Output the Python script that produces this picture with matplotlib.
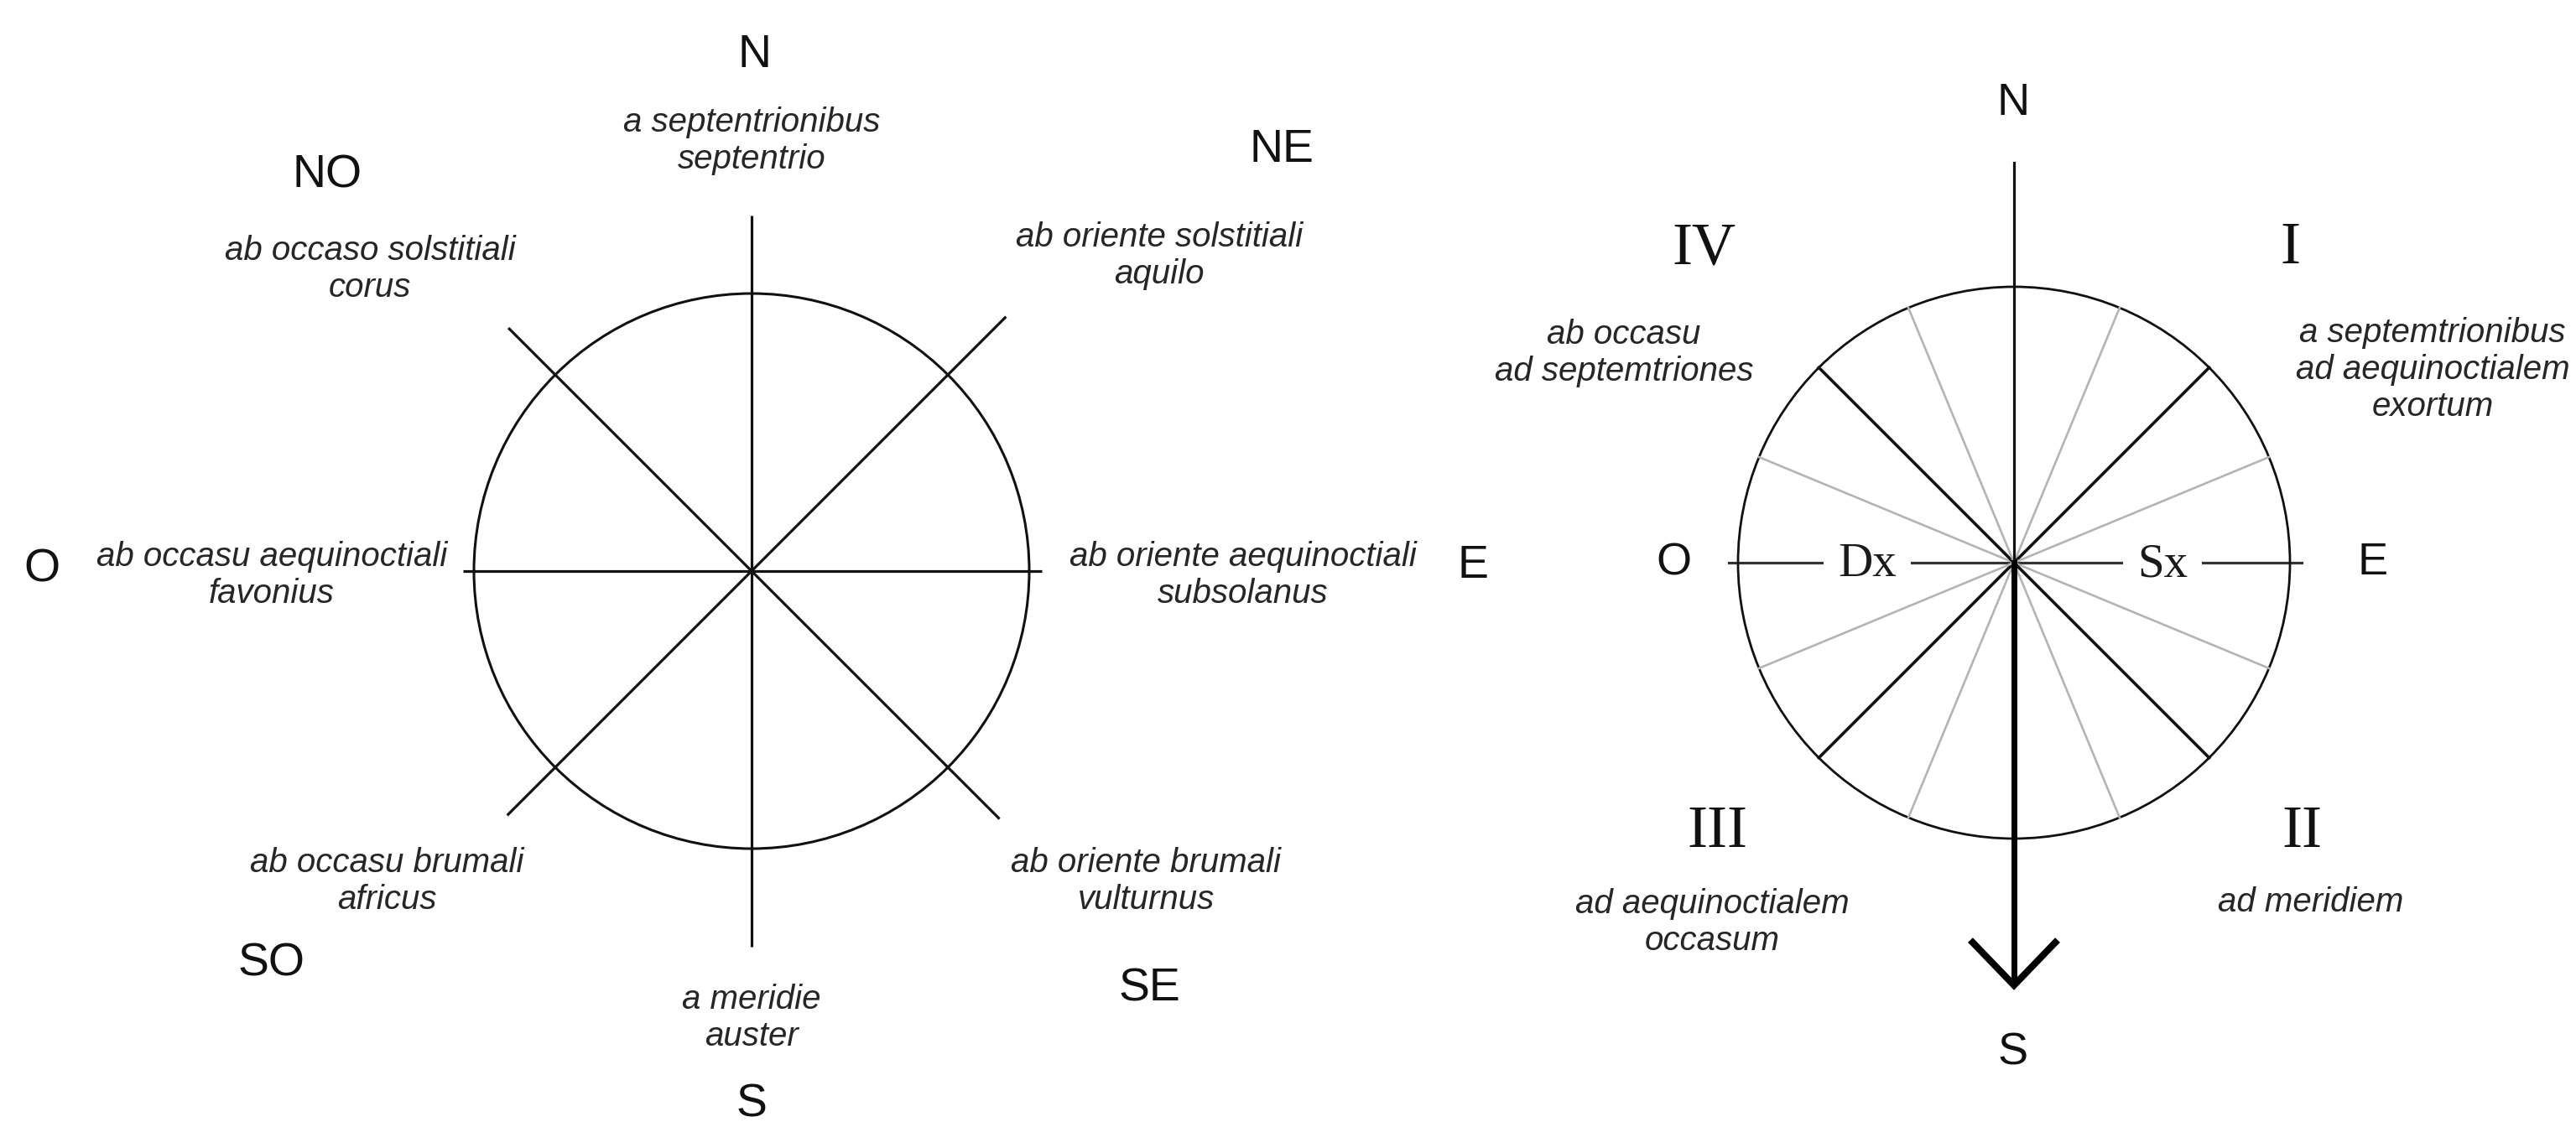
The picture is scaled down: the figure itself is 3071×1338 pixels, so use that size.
import numpy as np
import matplotlib.pyplot as plt
from matplotlib.patches import Circle

W, H = 3071, 1338
DPI = 100

# ---- left rose: the eight winds (Vitruvius)
LEFT_POINTS = ["N", "NE", "E", "SE", "S", "SO", "O", "NO"]
LEFT_BEARINGS = [0, 45, 90, 135, 180, 225, 270, 315]
LEFT_WINDS = [
    "a septentrionibus\nseptentrio",
    "ab oriente solstitiali\naquilo",
    "ab oriente aequinoctiali\nsubsolanus",
    "ab oriente brumali\nvulturnus",
    "a meridie\nauster",
    "ab occasu brumali\nafricus",
    "ab occasu aequinoctiali\nfavonius",
    "ab occaso solstitiali\ncorus",
]

# ---- right rose: the four quarters
RIGHT_POINTS = ["N", "E", "S", "O"]
RIGHT_SIDES = ["Dx", "Sx"]
QUARTERS = ["I", "II", "III", "IV"]
QUARTER_TEXT = [
    "a septemtrionibus\nad aequinoctialem\nexortum",
    "ad meridiem",
    "ad aequinoctialem\noccasum",
    "ab occasu\nad septemtriones",
]
SUBDIVISIONS = 16

# ---- layout (pixels, y pointing down)
L_CENTER = (896, 681)
L_RADIUS = 331
L_SPOKE = [424, 429, 346, 418, 448, 412, 344, 410]
L_POINT_POS = [(3, -615), (632, -502), (860, -6), (474, 498),
               (0, 637), (-572, 469), (-846, -2), (-506, -471)]
L_WIND_POS = [(0, -513), (486, -376), (586, 5), (470, 370),
              (0, 533), (-435, 370), (-572, 5), (-455, -360)]

R_CENTER = (2401, 671)
R_RADIUS = 329
R_POINT_POS = [(-1, -548), (428, 0), (-1, 585), (-406, 0)]
R_SIDE_POS = [(-175, 2), (177, 2)]
R_QUARTER_POS = [(329, -374), (343, 321), (-354, 321), (-370, -374)]
R_QTEXT_POS = [(499, -230), (354, 405), (-360, 429), (-465, -250)]

SANS = "Liberation Sans"
SERIF = "Liberation Serif"
INK = "#111111"
TEXT_INK = "#262626"


def unit(bearing):
    b = np.radians(bearing)
    return np.sin(b), -np.cos(b)


def at(center, off):
    return center[0] + off[0], center[1] + off[1]


fig = plt.figure(figsize=(W / DPI, H / DPI), dpi=DPI)
ax = fig.add_axes([0, 0, 1, 1])
ax.set_xlim(0, W)
ax.set_ylim(H, 0)
ax.set_axis_off()

# left rose
cx, cy = L_CENTER
ax.add_patch(Circle(L_CENTER, L_RADIUS, fill=False, lw=2.2, ec=INK))
for bearing, length in zip(LEFT_BEARINGS, L_SPOKE):
    ux, uy = unit(bearing)
    ax.plot([cx, cx + ux * length], [cy, cy + uy * length],
            color=INK, lw=2.3, solid_capstyle="butt")

for name, pos in zip(LEFT_POINTS, L_POINT_POS):
    x, y = at(L_CENTER, pos)
    ax.text(x, y, name, fontsize=40, family=SANS, color=INK,
            ha="center", va="center")
for wind, pos in zip(LEFT_WINDS, L_WIND_POS):
    x, y = at(L_CENTER, pos)
    ax.text(x, y, wind, fontsize=29, family=SANS, style="italic",
            color=TEXT_INK, ha="center", va="center", linespacing=1.2)

# right rose
cx, cy = R_CENTER
ax.add_patch(Circle(R_CENTER, R_RADIUS, fill=False, lw=2.0, ec=INK, zorder=3))
for k in range(SUBDIVISIONS):
    bearing = k * 360 / SUBDIVISIONS
    ux, uy = unit(bearing)
    if k % 2 == 1:
        ax.plot([cx, cx + ux * R_RADIUS], [cy, cy + uy * R_RADIUS],
                color="#b4b4b4", lw=1.9, zorder=3)
    elif k % 4 == 2:
        ax.plot([cx, cx + ux * R_RADIUS], [cy, cy + uy * R_RADIUS],
                color=INK, lw=2.6, zorder=3)

# east-west line, broken by Dx / Sx
ax.plot([cx - 340, cx + 343], [cy, cy], color="#333333", lw=2.3, zorder=1)
# north line and south arrow
ax.plot([cx, cx], [cy - 477, cy], color=INK, lw=2.3, zorder=3)
tip = cy + 504
ax.plot([cx, cx], [cy, tip - 4], color="black", lw=5.0, zorder=4)
ax.plot([cx - 52, cx, cx + 52], [tip - 54, tip, tip - 54], color="black",
        lw=5.8, solid_joinstyle="miter", solid_capstyle="butt", zorder=4)

for name, pos in zip(RIGHT_POINTS, R_POINT_POS):
    x, y = at(R_CENTER, pos)
    ax.text(x, y, name, fontsize=39, family=SANS, color=INK,
            ha="center", va="center")
for name, pos in zip(RIGHT_SIDES, R_SIDE_POS):
    x, y = at(R_CENTER, pos)
    ax.text(x, y, name, fontsize=41, family=SERIF, color="#1a1a1a",
            ha="center", va="center", zorder=2,
            bbox=dict(boxstyle="square,pad=0.3", fc="white", ec="none"))
for name, pos in zip(QUARTERS, R_QUARTER_POS):
    x, y = at(R_CENTER, pos)
    ax.text(x, y, name, fontsize=52, family=SERIF, color=INK,
            ha="center", va="center")
for txt, pos in zip(QUARTER_TEXT, R_QTEXT_POS):
    x, y = at(R_CENTER, pos)
    ax.text(x, y, txt, fontsize=29, family=SANS, style="italic",
            color=TEXT_INK, ha="center", va="center", linespacing=1.2)

fig.savefig("out.png", dpi=DPI, facecolor="white")
